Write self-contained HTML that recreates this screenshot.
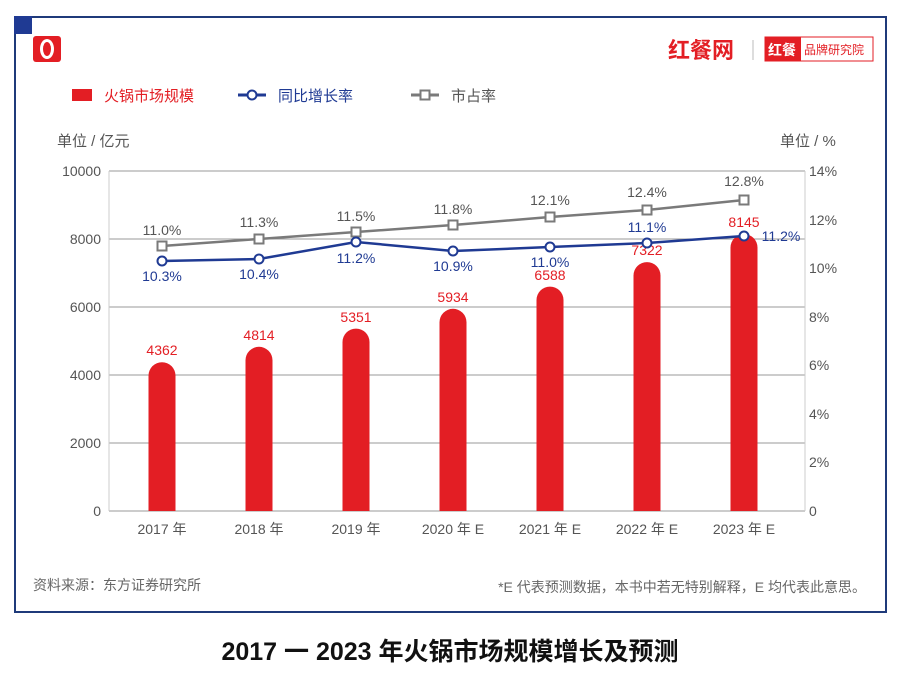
<!DOCTYPE html>
<html><head><meta charset="utf-8"><style>
body{margin:0;background:#fff;}
svg text{font-family:"Liberation Sans","Noto Sans CJK SC",sans-serif;}
</style></head><body>
<svg width="900" height="682" viewBox="0 0 900 682" xmlns="http://www.w3.org/2000/svg">
<rect x="0" y="0" width="900" height="682" fill="#fff"/>
<rect x="15" y="17" width="871" height="595" fill="none" stroke="#1f3a7a" stroke-width="2"/>
<rect x="14" y="16" width="18" height="18" fill="#1f3a93"/>
<rect x="33" y="36" width="28" height="26" rx="3" fill="#e31e24"/>
<ellipse cx="47" cy="49" rx="7" ry="10" fill="#fff"/>
<ellipse cx="47" cy="49" rx="4" ry="7" fill="#e31e24"/>
<text x="668" y="58" font-size="22" font-weight="bold" fill="#e31e24">红餐网</text>
<line x1="753" y1="40" x2="753" y2="60" stroke="#bbb" stroke-width="1"/>
<rect x="765" y="37" width="108" height="24" fill="#fff" stroke="#e31e24" stroke-width="1"/>
<rect x="765" y="37" width="36" height="24" fill="#e31e24"/>
<text x="768" y="55" font-size="14" font-weight="bold" fill="#fff">红餐</text>
<text x="804" y="54" font-size="12" fill="#e31e24">品牌研究院</text>
<!-- legend -->
<rect x="72" y="89" width="20" height="12" fill="#e31e24"/>
<text x="104" y="101" font-size="15" fill="#e31e24">火锅市场规模</text>
<line x1="238" y1="95" x2="266" y2="95" stroke="#1f3a93" stroke-width="3"/>
<circle cx="252" cy="95" r="4.5" fill="#fff" stroke="#1f3a93" stroke-width="2"/>
<text x="278" y="101" font-size="15" fill="#1f3a93">同比增长率</text>
<line x1="411" y1="95" x2="439" y2="95" stroke="#7a7a7a" stroke-width="3"/>
<rect x="420.5" y="90.5" width="9" height="9" fill="#fff" stroke="#7a7a7a" stroke-width="2"/>
<text x="451" y="101" font-size="15" fill="#555">市占率</text>
<text x="57" y="146" font-size="15" fill="#555">单位 / 亿元</text>
<text x="780" y="146" font-size="15" fill="#555">单位 / %</text>
<!-- grid -->
<g stroke="#999" stroke-width="1">
<line x1="109" y1="171" x2="805" y2="171"/><line x1="109" y1="239" x2="805" y2="239"/>
<line x1="109" y1="307" x2="805" y2="307"/><line x1="109" y1="375" x2="805" y2="375"/>
<line x1="109" y1="443" x2="805" y2="443"/><line x1="109" y1="511" x2="805" y2="511"/>
<line x1="109" y1="171" x2="109" y2="511" stroke="#ccc"/><line x1="805" y1="171" x2="805" y2="511" stroke="#ccc"/>
</g>
<g font-size="14" fill="#555" text-anchor="end">
<text x="101" y="176">10000</text><text x="101" y="244">8000</text><text x="101" y="312">6000</text>
<text x="101" y="380">4000</text><text x="101" y="448">2000</text><text x="101" y="516">0</text>
</g>
<g font-size="14" fill="#555">
<text x="809" y="176">14%</text><text x="809" y="225">12%</text><text x="809" y="273">10%</text>
<text x="809" y="322">8%</text><text x="809" y="370">6%</text><text x="809" y="419">4%</text>
<text x="809" y="467">2%</text><text x="809" y="516">0</text>
</g>
<!-- bars -->
<g fill="#e31e24">
<path d="M148.5 511 V375.7 a13.5 13.5 0 0 1 27 0 V511Z"/>
<path d="M245.5 511 V360.3 a13.5 13.5 0 0 1 27 0 V511Z"/>
<path d="M342.5 511 V342.1 a13.5 13.5 0 0 1 27 0 V511Z"/>
<path d="M439.5 511 V322.3 a13.5 13.5 0 0 1 27 0 V511Z"/>
<path d="M536.5 511 V300.1 a13.5 13.5 0 0 1 27 0 V511Z"/>
<path d="M633.5 511 V275.6 a13.5 13.5 0 0 1 27 0 V511Z"/>
<path d="M730.5 511 V247.6 a13.5 13.5 0 0 1 27 0 V511Z"/>
</g>
<g font-size="14" fill="#e31e24" text-anchor="middle">
<text x="162" y="355">4362</text><text x="259" y="340">4814</text><text x="356" y="322">5351</text>
<text x="453" y="302">5934</text><text x="550" y="280">6588</text><text x="647" y="255">7322</text>
<text x="744" y="227">8145</text>
</g>
<!-- share line -->
<polyline points="162,246 259,239 356,232 453,225 550,217 647,210 744,200" fill="none" stroke="#7a7a7a" stroke-width="2.5"/>
<g fill="#fff" stroke="#7a7a7a" stroke-width="2">
<rect x="157.5" y="241.5" width="9" height="9"/><rect x="254.5" y="234.5" width="9" height="9"/>
<rect x="351.5" y="227.5" width="9" height="9"/><rect x="448.5" y="220.5" width="9" height="9"/>
<rect x="545.5" y="212.5" width="9" height="9"/><rect x="642.5" y="205.5" width="9" height="9"/>
<rect x="739.5" y="195.5" width="9" height="9"/>
</g>
<g font-size="14" fill="#555" text-anchor="middle">
<text x="162" y="235">11.0%</text><text x="259" y="227">11.3%</text><text x="356" y="221">11.5%</text>
<text x="453" y="214">11.8%</text><text x="550" y="205">12.1%</text><text x="647" y="197">12.4%</text>
<text x="744" y="186">12.8%</text>
</g>
<!-- growth line -->
<polyline points="162,261 259,259 356,242 453,251 550,247 647,243 744,236" fill="none" stroke="#1f3a93" stroke-width="2.5"/>
<g fill="#fff" stroke="#1f3a93" stroke-width="2">
<circle cx="162" cy="261" r="4.5"/><circle cx="259" cy="259" r="4.5"/><circle cx="356" cy="242" r="4.5"/>
<circle cx="453" cy="251" r="4.5"/><circle cx="550" cy="247" r="4.5"/><circle cx="647" cy="243" r="4.5"/>
<circle cx="744" cy="236" r="4.5"/>
</g>
<g font-size="14" fill="#1f3a93" text-anchor="middle">
<text x="162" y="281">10.3%</text><text x="259" y="279">10.4%</text><text x="356" y="263">11.2%</text>
<text x="453" y="271">10.9%</text><text x="550" y="267">11.0%</text><text x="647" y="232">11.1%</text>
<text x="781" y="241">11.2%</text>
</g>
<g font-size="14" fill="#555" text-anchor="middle">
<text x="162" y="534">2017 年</text><text x="259" y="534">2018 年</text><text x="356" y="534">2019 年</text>
<text x="453" y="534">2020 年 E</text><text x="550" y="534">2021 年 E</text><text x="647" y="534">2022 年 E</text>
<text x="744" y="534">2023 年 E</text>
</g>
<text x="33" y="590" font-size="14" fill="#666">资料来源：东方证券研究所</text>
<text x="866" y="592" font-size="14" fill="#666" text-anchor="end">*E 代表预测数据，本书中若无特别解释，E 均代表此意思。</text>
<text x="450" y="660" font-size="25" fill="#111" text-anchor="middle" font-weight="bold">2017 一 2023 年火锅市场规模增长及预测</text>
</svg>
</body></html>
